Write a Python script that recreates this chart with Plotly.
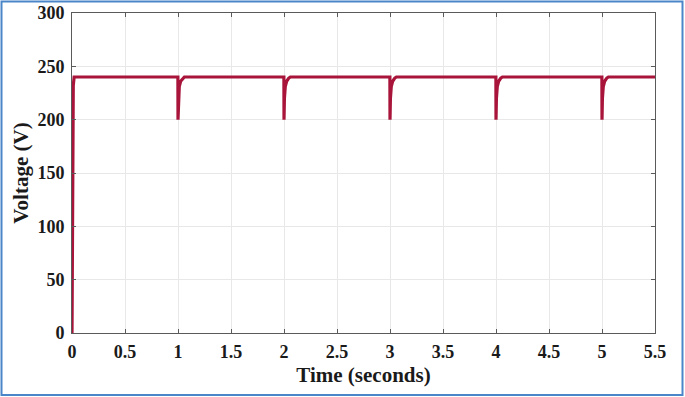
import plotly.graph_objects as go

# Time (s) and voltage (V)
time_s = [0.0, 0.004, 0.008, 0.012, 0.02,
          0.999, 1.0, 1.004, 1.012, 1.025, 1.045, 1.06,
          1.999, 2.0, 2.004, 2.012, 2.025, 2.045, 2.06,
          2.999, 3.0, 3.004, 3.012, 3.025, 3.045, 3.06,
          3.999, 4.0, 4.004, 4.012, 4.025, 4.045, 4.06,
          4.999, 5.0, 5.004, 5.012, 5.025, 5.045, 5.06,
          5.5]
voltage_v = [0, 90, 180, 232, 240,
             240, 200, 220, 231, 236, 239, 240,
             240, 200, 220, 231, 236, 239, 240,
             240, 200, 220, 231, 236, 239, 240,
             240, 200, 220, 231, 236, 239, 240,
             240, 200, 220, 231, 236, 239, 240,
             240]

x_ticks = [0, 0.5, 1, 1.5, 2, 2.5, 3, 3.5, 4, 4.5, 5, 5.5]
x_tick_labels = ["0", "0.5", "1", "1.5", "2", "2.5", "3", "3.5", "4", "4.5", "5", "5.5"]
y_ticks = [0, 50, 100, 150, 200, 250, 300]

W, H = 685, 397
ML, MR, MT, MB = 72, 30, 13, 64

fig = go.Figure()
fig.add_trace(go.Scatter(x=time_s, y=voltage_v, mode="lines",
                         line=dict(color="#A8143A", width=3.2), showlegend=False))

font_tick = dict(family="Liberation Serif", size=18, color="#1a1a1a")
title_font = dict(family="Liberation Serif", size=21, color="#1a1a1a")
axis_common = dict(showline=True, linecolor="#5a5a5a", linewidth=1, mirror="ticks",
                   ticks="inside", ticklen=4, tickcolor="#5a5a5a",
                   showgrid=True, gridcolor="#E8E8E8", gridwidth=1,
                   zeroline=False, tickfont=font_tick, automargin=False)

fig.update_xaxes(range=[0, 5.5], tickvals=x_ticks, ticktext=["<b>%s</b>" % t for t in x_tick_labels],
                 title=dict(text="<b>Time (seconds)</b>", font=title_font, standoff=6),
                 ticklabelstandoff=2, **axis_common)
fig.update_yaxes(range=[0, 300], tickvals=y_ticks, ticktext=["<b>%d</b>" % v for v in y_ticks],
                 title=dict(text="<b>Voltage (V)</b>", font=title_font, standoff=3),
                 ticklabelstandoff=3, **axis_common)

pw = W - ML - MR
ph = H - MT - MB
def px_x(p):
    return (p - ML) / pw
def px_y(p):
    return 1 - (p - MT) / ph

fig.add_shape(type="rect", xref="paper", yref="paper",
              x0=px_x(1.5), x1=px_x(682.5), y0=px_y(395), y1=px_y(1.5),
              line=dict(color="#4A86C8", width=2), fillcolor="rgba(0,0,0,0)", layer="below")

fig.update_layout(width=W, height=H, margin=dict(l=ML, r=MR, t=MT, b=MB, autoexpand=False),
                  plot_bgcolor="white", paper_bgcolor="white")

fig.write_html("out.html", config={"displayModeBar": False},
               post_script="document.body.style.margin='0';")
